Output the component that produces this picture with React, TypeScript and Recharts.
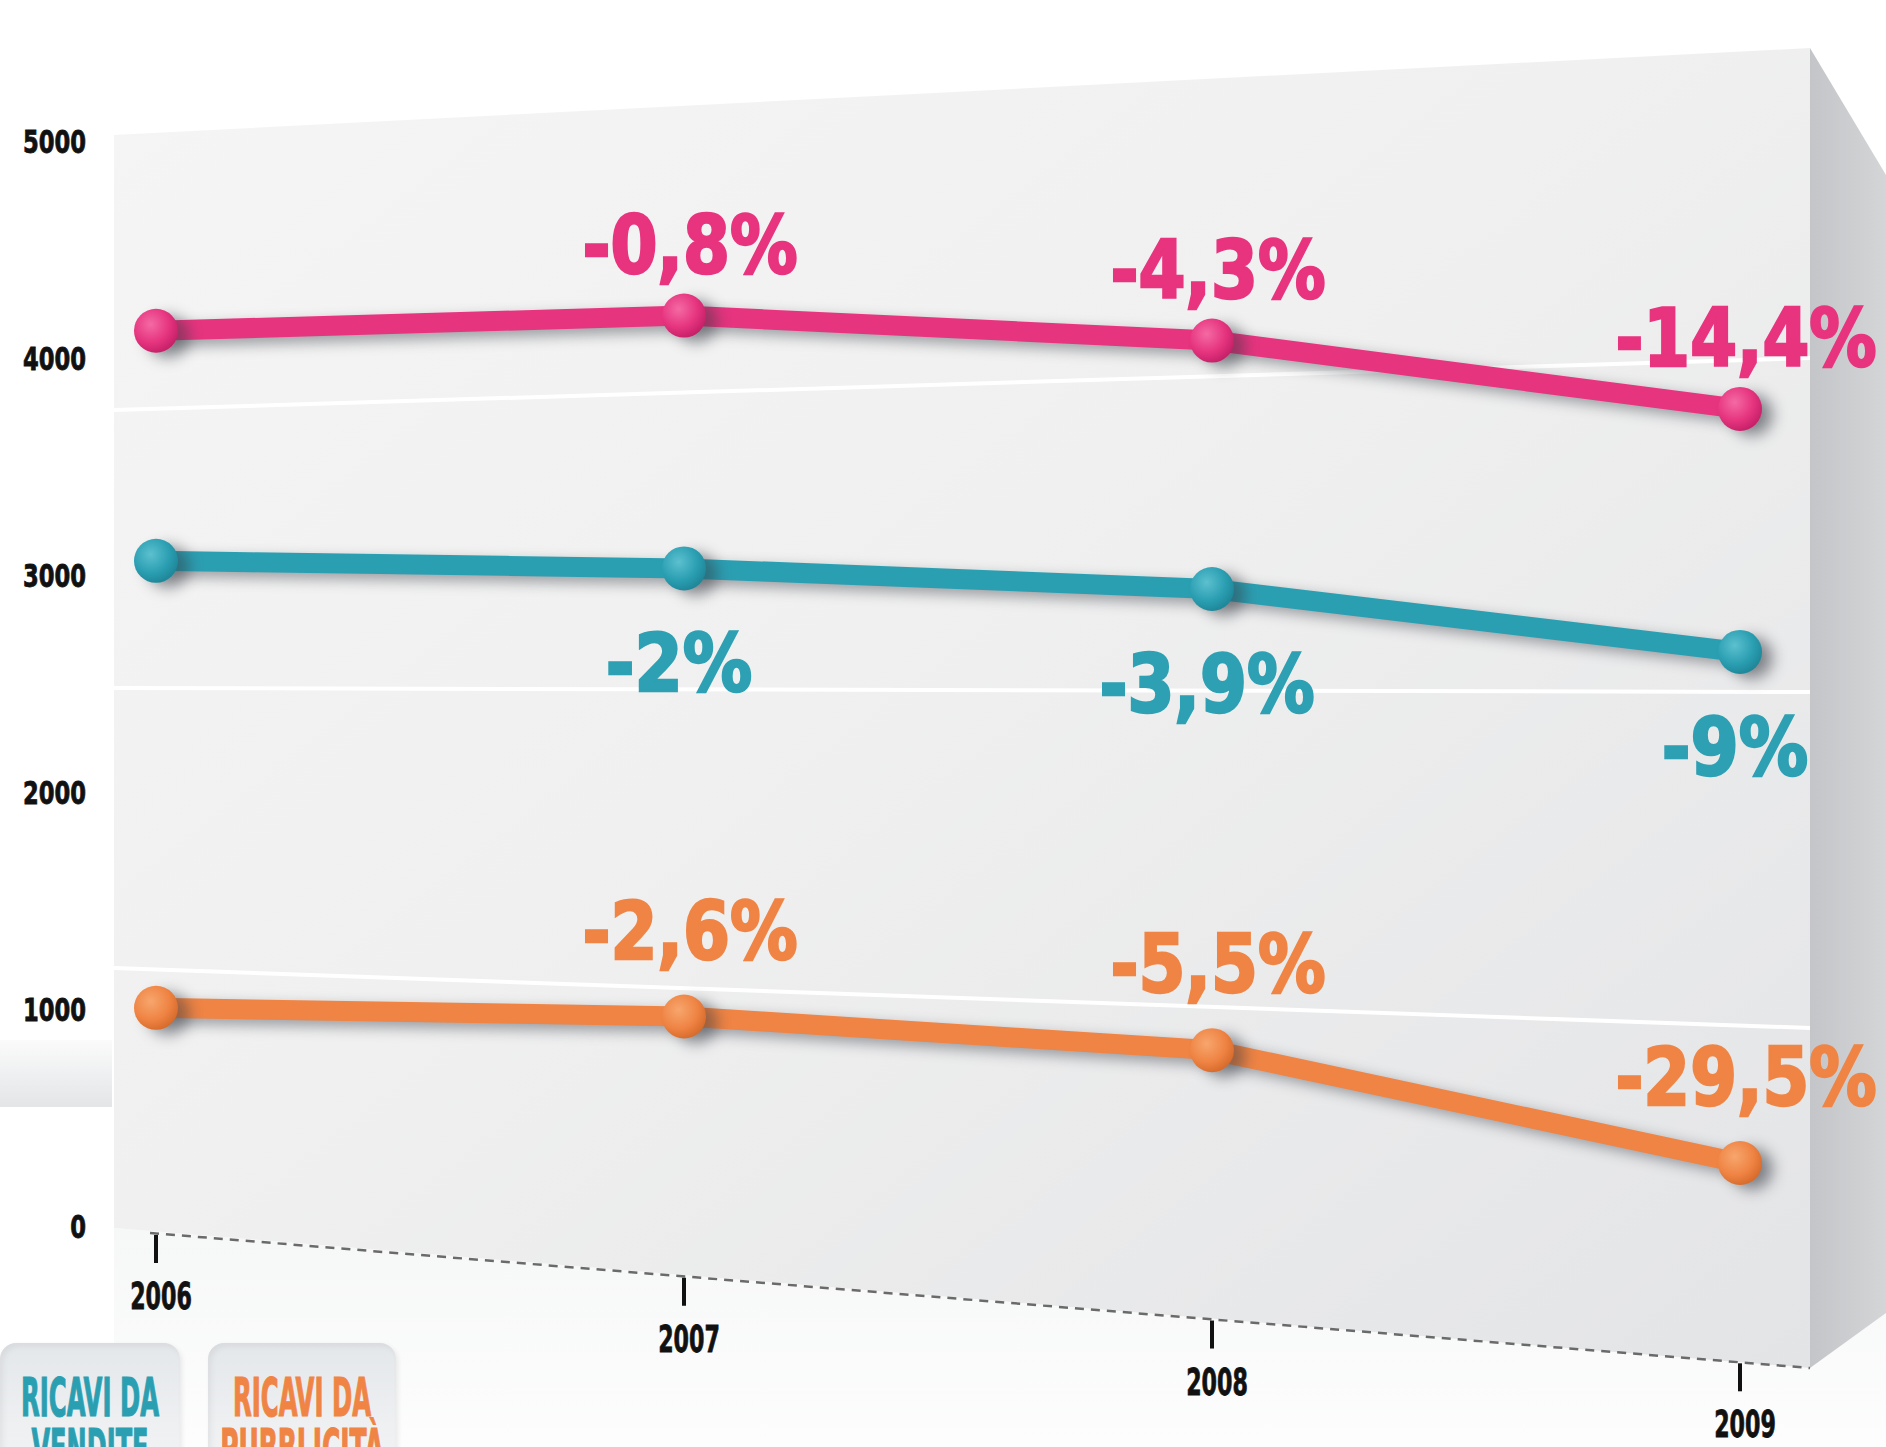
import React from 'react';
import { LineChart, Line, XAxis, YAxis, Legend, LabelList } from 'recharts';

// ---------- data ----------
const years = ['2006', '2007', '2008', '2009'];
const ricaviTotali = [4130, 4200, 4085, 3770];
const ricaviVendite = [3070, 3035, 2940, 2650];
const ricaviPubblicita = [1010, 970, 815, 295];
const pctTotali = ['', '-0,8%', '-4,3%', '-14,4%'];
const pctVendite = ['', '-2%', '-3,9%', '-9%'];
const pctPubblicita = ['', '-2,6%', '-5,5%', '-29,5%'];
const yTicks = [0, 1000, 2000, 3000, 4000, 5000];
const legendOrder = ['vendite', 'pubblicita'];

const data = years.map((year, i) => ({
  year,
  totali: ricaviTotali[i],
  vendite: ricaviVendite[i],
  pubblicita: ricaviPubblicita[i],
  pctTotali: pctTotali[i],
  pctVendite: pctVendite[i],
  pctPubblicita: pctPubblicita[i],
}));

// ---------- styling helpers ----------
const PINK = '#e6347f';
const TEAL = '#2b9fb2';
const ORANGE = '#ef8444';
const FONT = "'Liberation Sans Narrow','DejaVu Sans Condensed','Liberation Sans',Arial,sans-serif";

const CW: Record<string, number> = {
  '0': 0.556, '1': 0.556, '2': 0.556, '3': 0.556, '4': 0.556, '5': 0.556, '6': 0.556,
  '7': 0.556, '8': 0.556, '9': 0.556, '-': 0.333, ',': 0.278, '%': 0.889, ' ': 0.278,
  A: 0.722, B: 0.722, C: 0.722, D: 0.722, E: 0.667, I: 0.278, L: 0.611, N: 0.722,
  P: 0.667, R: 0.722, T: 0.611, U: 0.722, V: 0.667, 'À': 0.722,
};
const textLen = (s: string, size: number, squeeze: number) =>
  s.split('').reduce((a, ch) => a + (CW[ch] ?? 0.6), 0) * size * squeeze;

const makePctLabel = (color: string, dx: number, dy: number) => (props: any) => {
  const { x, y, value } = props;
  if (!value) return null;
  const size = 80;
  return (
    <text
      x={Number(x) + dx}
      y={Number(y) + dy}
      textAnchor="middle"
      fontFamily={FONT}
      fontWeight={700}
      fontSize={size}
      fill={color}
      stroke={color}
      strokeWidth={2.5}
      textLength={textLen(String(value), size, 1.03)}
      lengthAdjust="spacingAndGlyphs"
    >
      {value}
    </text>
  );
};

const YTick = (props: any) => {
  const { x, y, payload } = props;
  const s = String(payload.value);
  return (
    <text
      x={x}
      y={Number(y) + 11}
      textAnchor="end"
      fontFamily={FONT}
      fontWeight={700}
      fontSize={32}
      fill="#111"
      stroke="#111"
      strokeWidth={0.8}
      textLength={textLen(s, 32, 0.885)}
      lengthAdjust="spacingAndGlyphs"
    >
      {s}
    </text>
  );
};

const XTick = (props: any) => {
  const { x, y, payload } = props;
  const slant = (Number(x) - 156) * 0.081;
  const s = String(payload.value);
  return (
    <g>
      <line x1={x} x2={x} y1={Number(y) + slant} y2={Number(y) + slant + 28} stroke="#111" strokeWidth={4} />
      <text
        x={Number(x) + 5}
        y={Number(y) + slant + 74}
        textAnchor="middle"
        fontFamily={FONT}
        fontWeight={700}
        fontSize={38}
        fill="#111"
        stroke="#111"
        strokeWidth={0.8}
        textLength={textLen(s, 38, 0.73)}
        lengthAdjust="spacingAndGlyphs"
      >
        {s}
      </text>
    </g>
  );
};

const renderLegend = (props: any) => {
  const items = (props.payload || [])
    .filter((p: any) => legendOrder.includes(String(p.dataKey)))
    .sort((a: any, b: any) => legendOrder.indexOf(String(a.dataKey)) - legendOrder.indexOf(String(b.dataKey)));
  const boxes = [
    { left: 0, width: 180 },
    { left: 208, width: 188 },
  ];
  return (
    <div style={{ position: 'relative', width: 420, height: 104 }}>
      {items.map((it: any, i: number) => {
        const b = boxes[i] || boxes[0];
        const name = String(it.value);
        const first = 'RICAVI DA';
        const second = name.replace(first, '').trim();
        const size = 54;
        return (
          <div
            key={name}
            style={{
              position: 'absolute',
              left: b.left,
              top: 0,
              width: b.width,
              height: 140,
              borderRadius: 16,
              background: 'linear-gradient(180deg, #e4e7ea 0%, #eef0f2 60%, #f2f3f4 100%)',
              boxShadow: 'inset 3px 3px 6px rgba(0,0,0,0.06), 2px 2px 5px rgba(0,0,0,0.08)',
            }}
          >
            <svg width={b.width} height={140} style={{ position: 'absolute', left: 0, top: 0, overflow: 'visible' }}>
              <text
                x={b.width / 2}
                y={73}
                textAnchor="middle"
                fontFamily={FONT}
                fontWeight={700}
                fontSize={size}
                fill={it.color}
                stroke={it.color}
                strokeWidth={1.2}
                textLength={textLen(first, size, 0.5)}
                lengthAdjust="spacingAndGlyphs"
              >
                {first}
              </text>
              <text
                x={b.width / 2}
                y={124}
                textAnchor="middle"
                fontFamily={FONT}
                fontWeight={700}
                fontSize={size}
                fill={it.color}
                stroke={it.color}
                strokeWidth={1.2}
                textLength={textLen(second, size, 0.5)}
                lengthAdjust="spacingAndGlyphs"
              >
                {second}
              </text>
            </svg>
          </div>
        );
      })}
    </div>
  );
};

const Background = () => (
  <svg width={1886} height={1447} style={{ position: 'absolute', left: 0, top: 0 }}>
    <defs>
      <linearGradient id="panelGrad" x1="0" y1="0" x2="1" y2="1">
        <stop offset="0%" stopColor="#f5f5f5" />
        <stop offset="45%" stopColor="#f0f0f0" />
        <stop offset="100%" stopColor="#e3e4e6" />
      </linearGradient>
      <linearGradient id="faceGrad" x1="0" y1="0" x2="1" y2="0">
        <stop offset="0%" stopColor="#c3c5c8" />
        <stop offset="100%" stopColor="#d3d5d7" />
      </linearGradient>
      <linearGradient id="floorGrad" x1="0" y1="0" x2="0" y2="1">
        <stop offset="0%" stopColor="#f6f7f7" />
        <stop offset="100%" stopColor="#fdfdfd" />
      </linearGradient>
      <linearGradient id="shelfGrad" x1="0" y1="0" x2="0" y2="1">
        <stop offset="0%" stopColor="#fbfbfb" />
        <stop offset="100%" stopColor="#e3e5e7" />
      </linearGradient>
      <radialGradient id="dotPink" cx="38%" cy="35%" r="70%">
        <stop offset="0%" stopColor="#f46aa3" />
        <stop offset="60%" stopColor="#e6347f" />
        <stop offset="100%" stopColor="#c21f66" />
      </radialGradient>
      <radialGradient id="dotTeal" cx="38%" cy="35%" r="70%">
        <stop offset="0%" stopColor="#5cc0cf" />
        <stop offset="60%" stopColor="#2b9fb2" />
        <stop offset="100%" stopColor="#1d8496" />
      </radialGradient>
      <radialGradient id="dotOrange" cx="38%" cy="35%" r="70%">
        <stop offset="0%" stopColor="#f7a66e" />
        <stop offset="60%" stopColor="#ef8444" />
        <stop offset="100%" stopColor="#d4692a" />
      </radialGradient>
    </defs>
    <rect x={0} y={0} width={1886} height={1447} fill="#ffffff" />
    <polygon points="114,1228 1810,1368 1886,1313 1886,1447 114,1447" fill="url(#floorGrad)" />
    <rect x={0} y={1040} width={112} height={67} fill="url(#shelfGrad)" />
    <polygon points="114,135 1810,48 1810,1368 114,1228" fill="url(#panelGrad)" />
    <polygon points="1810,48 1886,175 1886,1313 1810,1368" fill="url(#faceGrad)" />
    <line x1={114} y1={410} x2={1810} y2={358} stroke="#ffffff" strokeWidth={4} />
    <line x1={114} y1={688} x2={1810} y2={692} stroke="#ffffff" strokeWidth={4} />
    <line x1={114} y1={968} x2={1810} y2={1028} stroke="#ffffff" strokeWidth={4} />
    <line x1={150} y1={1233} x2={1810} y2={1368} stroke="#6a6a6a" strokeWidth={2.5} strokeDasharray="9 7" />
  </svg>
);

export default function App() {
  return (
    <div style={{ position: 'relative', width: 1886, height: 1447, overflow: 'hidden', background: '#fff' }}>
      <style>{`
        body { margin: 0; overflow: hidden; }
        .recharts-line-curve, .recharts-line-dots { filter: drop-shadow(12px 6px 7px rgba(50,55,65,0.45)); }
      `}</style>
      <Background />
      <div style={{ position: 'absolute', left: 0, top: 0 }}>
        <LineChart width={1886} height={1447} data={data} margin={{ top: 142, right: 76, bottom: 0, left: 0 }}>
          <XAxis
            dataKey="year"
            height={220}
            axisLine={false}
            tickLine={false}
            padding={{ left: 42, right: 70 }}
            tick={<XTick />}
            interval={0}
          />
          <YAxis
            domain={[0, 5000]}
            ticks={yTicks}
            width={114}
            axisLine={false}
            tickLine={false}
            tickMargin={22}
            tick={<YTick />}
            interval={0}
          />
          <Legend
            layout="vertical"
            align="center"
            verticalAlign="middle"
            content={renderLegend}
            wrapperStyle={{ position: 'absolute', left: 0, top: 1343, width: 420, height: 104 }}
          />
          <Line
            type="linear"
            dataKey="totali"
            name="RICAVI TOTALI"
            stroke={PINK}
            strokeWidth={20}
            strokeLinecap="round"
            dot={{ r: 22, fill: 'url(#dotPink)', stroke: 'none', strokeWidth: 0 }}
            activeDot={false}
            isAnimationActive={false}
          >
            <LabelList dataKey="pctTotali" content={makePctLabel('#e8337e', 6, -43)} />
          </Line>
          <Line
            type="linear"
            dataKey="vendite"
            name="RICAVI DA VENDITE"
            stroke={TEAL}
            strokeWidth={20}
            strokeLinecap="round"
            dot={{ r: 22, fill: 'url(#dotTeal)', stroke: 'none', strokeWidth: 0 }}
            activeDot={false}
            isAnimationActive={false}
          >
            <LabelList dataKey="pctVendite" content={makePctLabel('#2ea0b3', -5, 123)} />
          </Line>
          <Line
            type="linear"
            dataKey="pubblicita"
            name="RICAVI DA PUBBLICITÀ"
            stroke={ORANGE}
            strokeWidth={20}
            strokeLinecap="round"
            dot={{ r: 22, fill: 'url(#dotOrange)', stroke: 'none', strokeWidth: 0 }}
            activeDot={false}
            isAnimationActive={false}
          >
            <LabelList dataKey="pctPubblicita" content={makePctLabel('#ef8444', 6, -58)} />
          </Line>
        </LineChart>
      </div>
    </div>
  );
}
